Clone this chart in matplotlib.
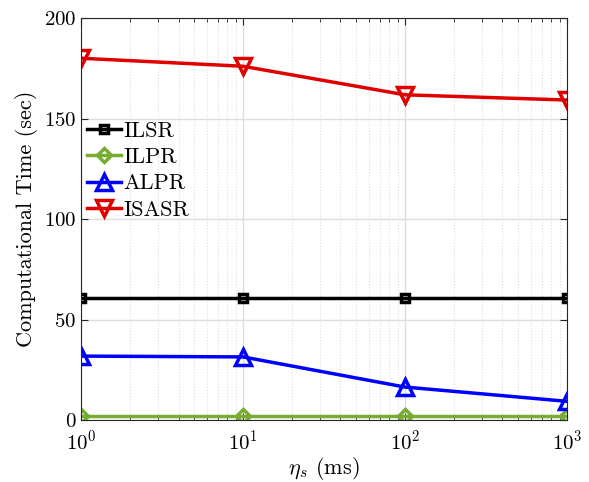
import numpy as np
import matplotlib
matplotlib.use('Agg')
import matplotlib.pyplot as plt

eta = [1, 10, 100, 1000]
ilsr = [60.8, 60.8, 60.8, 60.8]
ilpr = [2.0, 2.0, 2.0, 2.0]
alpr = [31.8, 31.4, 16.4, 9.3]
isasr = [180.0, 176.0, 161.8, 159.2]

plt.rcParams['font.family'] = 'serif'
plt.rcParams['font.serif'] = ['cmr10']
plt.rcParams['mathtext.fontset'] = 'cm'
plt.rcParams['axes.formatter.use_mathtext'] = True

fig = plt.figure(figsize=(5.89, 4.82), dpi=100)
ax = fig.add_axes([0.1375, 0.1286, 0.825, 0.834])

ax.plot(eta, ilsr, '-s', color='black', lw=2.5, ms=6, mfc='none', mew=2.5, label='ILSR')
ax.plot(eta, ilpr, '-D', color='#77AC30', lw=2.5, ms=7.5, mfc='none', mew=2.5, label='ILPR')
ax.plot(eta, alpr, '-^', color='#0000FF', lw=2.5, ms=11, mfc='none', mew=2.5, label='ALPR')
ax.plot(eta, isasr, '-v', color='#E00000', lw=2.5, ms=11, mfc='none', mew=2.5, label='ISASR')

ax.set_xscale('log')
ax.set_xlim(1, 1000)
ax.set_ylim(0, 200)
ax.set_yticks([0, 50, 100, 150, 200])
ax.grid(True, which='major', color='#dddddd', lw=1)
ax.grid(True, which='minor', axis='x', color='#dddddd', ls=':', lw=0.8)
ax.set_axisbelow(True)
ax.tick_params(which='both', direction='in', top=True, right=True, labelsize=15, color='#262626')
ax.tick_params(which='major', length=5)
ax.tick_params(axis='x', pad=7)
ax.tick_params(which='minor', length=3)
for s in ax.spines.values():
    s.set_color('#262626')
    s.set_linewidth(0.8)

ax.set_xlabel(r'$\eta_s$ (ms)', fontsize=16, labelpad=1)
ax.set_ylabel('Computational Time (sec)', fontsize=16)

ax.legend(loc='upper left', bbox_to_anchor=(-0.005, 0.765), frameon=False, fontsize=16,
          handlelength=1.5, handletextpad=0.1, labelspacing=0.3, borderaxespad=0)

fig.savefig('out.png', dpi=100)
